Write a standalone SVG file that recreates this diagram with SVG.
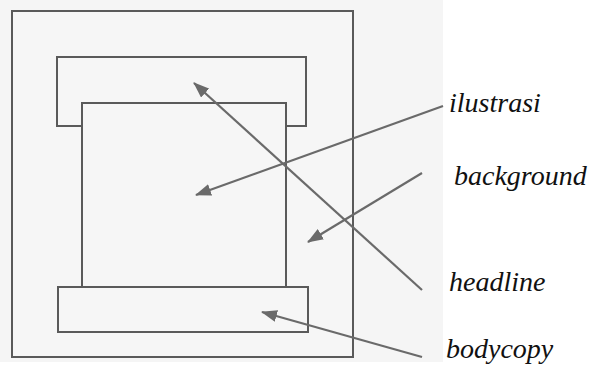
<svg xmlns="http://www.w3.org/2000/svg" width="597" height="367" viewBox="0 0 597 367">
<style>
.box{fill:#f6f6f6;stroke:#5a5a5a;stroke-width:2}
.conn{stroke:#6a6a6a;stroke-width:2.2;fill:none}
.lbl{font-family:'Liberation Serif','DejaVu Serif',serif;font-style:italic;font-size:28px;fill:#111}
</style>
<defs>
<marker id="ah" viewBox="0 0 16 12" refX="15" refY="6" markerWidth="16" markerHeight="12" markerUnits="userSpaceOnUse" orient="auto">
<path d="M0,0 L16,6 L0,12 z" fill="#6a6a6a"/>
</marker>
</defs>
<rect x="0" y="0" width="443" height="362" fill="#f5f5f5"/>
<g id="page"><rect class="box" x="12" y="11" width="341" height="346"/></g>
<g id="headline-box"><rect class="box" x="57" y="57" width="249" height="69"/></g>
<g id="ilustrasi-box"><rect class="box" x="82" y="103" width="204" height="184"/></g>
<g id="bodycopy-box"><rect class="box" x="58" y="287" width="250" height="45"/></g>
<g id="connectors">
<line class="conn" x1="443" y1="106" x2="196" y2="195" marker-end="url(#ah)"/>
<line class="conn" x1="422" y1="173" x2="308" y2="242" marker-end="url(#ah)"/>
<line class="conn" x1="422" y1="290" x2="194" y2="83" marker-end="url(#ah)"/>
<line class="conn" x1="422" y1="357" x2="262" y2="312" marker-end="url(#ah)"/>
</g>
<g id="labels">
<text class="lbl" x="449" y="112" font-family="Liberation Serif, serif" font-style="italic">ilustrasi</text>
<text class="lbl" x="454" y="185" font-family="Liberation Serif, serif" font-style="italic">background</text>
<text class="lbl" x="449" y="291" font-family="Liberation Serif, serif" font-style="italic">headline</text>
<text class="lbl" x="446" y="358" font-family="Liberation Serif, serif" font-style="italic">bodycopy</text>
</g>
</svg>
